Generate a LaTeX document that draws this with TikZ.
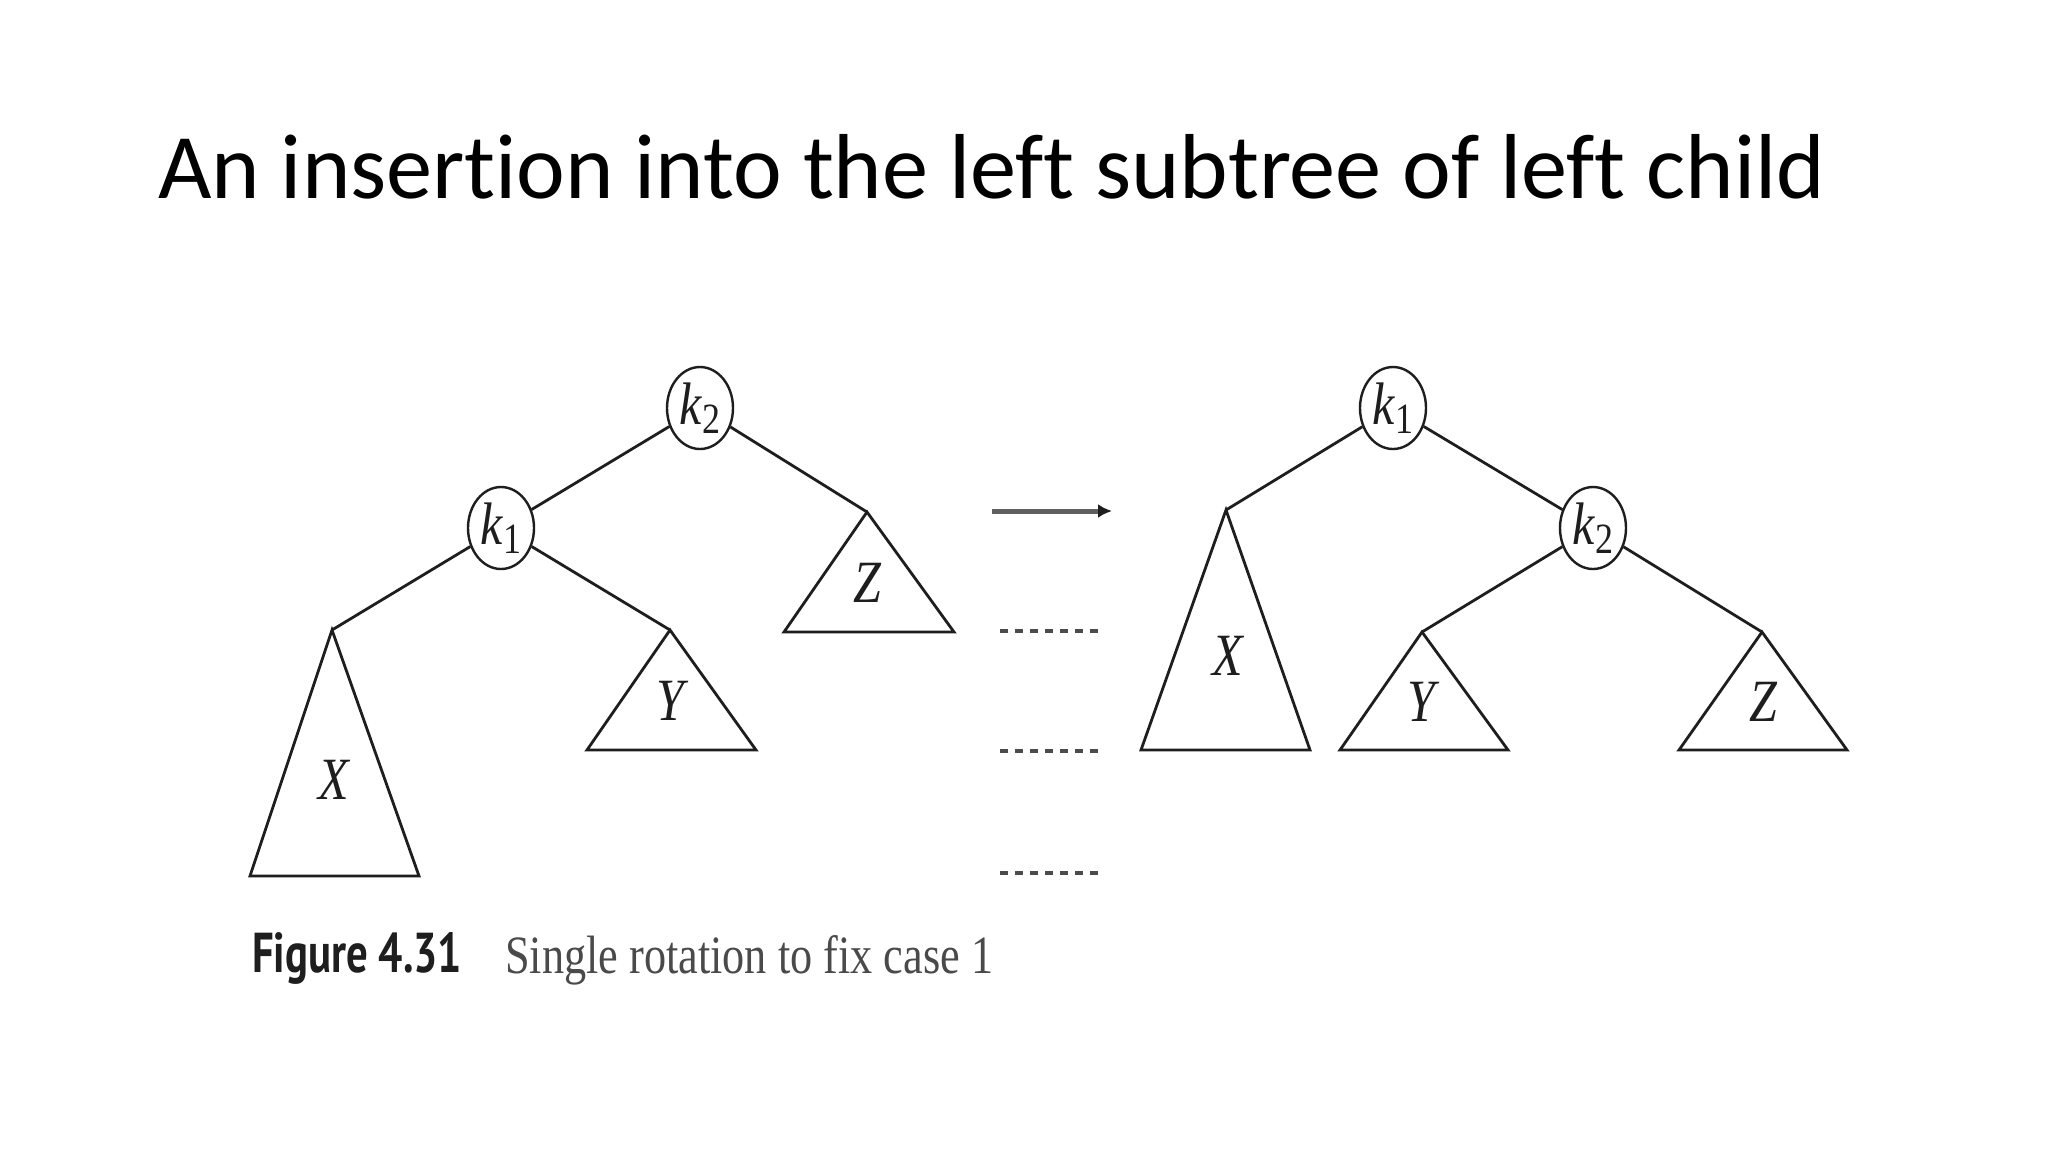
\documentclass[tikz,border=0pt]{standalone}
\usepackage{fontspec}
\setmainfont{Liberation Serif}
\newfontfamily\titlefont[Ligatures={NoCommon}]{Carlito}
\newfontfamily\capsans{PT Sans}
\usepackage{graphicx}
\usetikzlibrary{shapes.geometric,arrows.meta}
\definecolor{ink}{HTML}{1E1E1E}
\definecolor{capgray}{HTML}{4A4A4A}
\newcommand\kk[1]{\scalebox{1}[1.2]{\fontsize{50}{50}\selectfont\textit{k}\kern0.5pt\raisebox{-8pt}{\fontsize{36}{36}\selectfont #1}}}
\newcommand\tl[1]{\scalebox{1}[1.2]{\fontsize{50}{50}\selectfont\textit{#1}}}
\begin{document}
\begin{tikzpicture}[x=1pt,y=-1pt,
  keynode/.style={ellipse,draw=ink,line width=2.4pt,minimum width=66pt,minimum height=82pt,inner sep=0pt,text=ink},
  edge/.style={draw=ink,line width=2.8pt},
  tri/.style={draw=ink,line width=2.8pt,line join=miter},
  lbl/.style={inner sep=0pt,text=ink},
  dashline/.style={draw=ink!80,line width=3.5pt,dash pattern=on 8pt off 7pt}]
\fill[white] (0,0) rectangle (2048,1152);
\useasboundingbox (0,0) rectangle (2048,1152);

% title
\node[anchor=base west,inner sep=0pt] (title) at (158,198)
  {\resizebox{1667pt}{!}{\titlefont\fontsize{94}{94}\selectfont An insertion into the left subtree of left child}};

% ---------- left tree ----------
\node[keynode] (Lk2) at (700,408) {\kk{2}};
\node[keynode] (Lk1) at (501,528) {\kk{1}};
\coordinate (LXa) at (332,630);
\coordinate (LYa) at (670,630);
\coordinate (LZa) at (867,512);
\draw[tri] (LXa) -- (419,876) -- (250,876) -- cycle;
\draw[tri] (LYa) -- (756,750) -- (587,750) -- cycle;
\draw[tri] (LZa) -- (954,632) -- (784,632) -- cycle;
\draw[edge] (Lk2) -- (Lk1);
\draw[edge] (Lk2) -- (LZa);
\draw[edge] (Lk1) -- (LXa);
\draw[edge] (Lk1) -- (LYa);
\node[lbl] (LX) at (335,780) {\tl{X}};
\node[lbl] (LY) at (673,701) {\tl{Y}};
\node[lbl] (LZ) at (868,583) {\tl{Z}};

% ---------- arrow and dashes ----------
\coordinate (as) at (992,511);
\coordinate (ae) at (1112,511);
\draw[gray!75!black,line width=5pt,-{Latex[length=14pt,width=14pt,color=ink]}] (as) -- (ae);
\coordinate (d1a) at (1000,631); \coordinate (d1b) at (1098,631);
\coordinate (d2a) at (1000,751); \coordinate (d2b) at (1098,751);
\coordinate (d3a) at (1000,873); \coordinate (d3b) at (1098,873);
\draw[dashline] (d1a) -- (d1b);
\draw[dashline] (d2a) -- (d2b);
\draw[dashline] (d3a) -- (d3b);

% ---------- right tree ----------
\node[keynode] (Rk1) at (1393,408) {\kk{1}};
\node[keynode] (Rk2) at (1593,528) {\kk{2}};
\coordinate (RXa) at (1226,510);
\coordinate (RYa) at (1422,632);
\coordinate (RZa) at (1762,632);
\draw[tri] (RXa) -- (1310,750) -- (1141,750) -- cycle;
\draw[tri] (RYa) -- (1508,750) -- (1340,750) -- cycle;
\draw[tri] (RZa) -- (1847,750) -- (1679,750) -- cycle;
\draw[edge] (Rk1) -- (RXa);
\draw[edge] (Rk1) -- (Rk2);
\draw[edge] (Rk2) -- (RYa);
\draw[edge] (Rk2) -- (RZa);
\node[lbl] (RX) at (1229,656) {\tl{X}};
\node[lbl] (RY) at (1424,702) {\tl{Y}};
\node[lbl] (RZ) at (1764,702) {\tl{Z}};

% ---------- caption ----------
\node[anchor=base west,inner sep=0pt,text=ink] (capnum) at (252,972)
  {\resizebox{210pt}{40pt}{\capsans\bfseries Figure 4.31}};
\node[anchor=base west,inner sep=0pt,text=capgray] (captext) at (505,973)
  {\resizebox{488pt}{38pt}{Single rotation to fix case 1}};
\end{tikzpicture}
\end{document}
